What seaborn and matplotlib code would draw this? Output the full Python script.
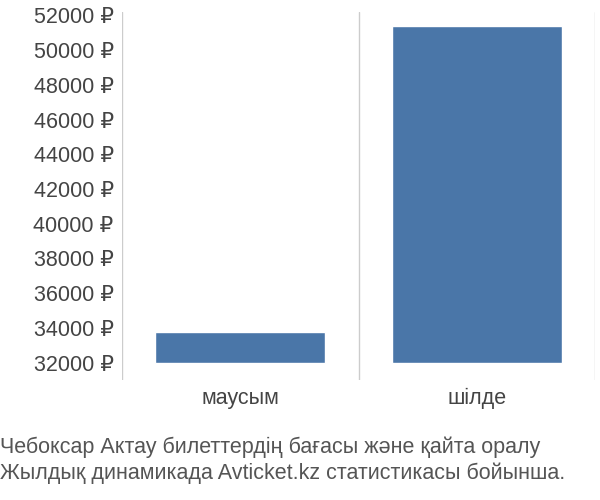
import matplotlib
matplotlib.use("Agg")
import matplotlib.pyplot as plt
import seaborn as sns
import pandas as pd

categories = ["маусым", "шілде"]
prices = [33790, 51420]
base = 32000
yticks = list(range(32000, 52001, 2000))
caption_lines = ["Чебоксар Актау билеттердің бағасы және қайта оралу",
                 "Жылдық динамикада Avticket.kz статистикасы бойынша."]

sns.set_style("white")
plt.rcParams['font.family'] = ['Liberation Sans', 'DejaVu Sans']

fig = plt.figure(figsize=(6, 5), dpi=100)
ax = fig.add_axes([122/600, 1-380/500, (595-122)/600, (380-12)/500])
df = pd.DataFrame({"cat": categories, "h": [p - base for p in prices]})
sns.barplot(data=df, x="cat", y="h", bottom=base, color="#4a76a8", saturation=1, width=0.72, ax=ax)
ax.set_ylim(31000, 52200)
ax.set_xlim(-0.5, 1.5)
for s in ax.spines.values():
    s.set_visible(False)
for x in [-0.5, 0.5, 1.5]:
    ax.axvline(x, color="#cccccc", lw=1, zorder=0)
ax.set_yticks(yticks)
ax.set_yticklabels([f"{t} ₽" for t in yticks], fontsize=15.5, color="#444444")
ax.tick_params(axis='x', labelsize=15.5, colors="#444444", length=0, pad=6)
ax.tick_params(axis='y', length=0, pad=6)
ax.set_xlabel("")
ax.set_ylabel("")
fig.text(0.0, 1-447/500, caption_lines[0], fontsize=15.5, color="#555555", va="center")
fig.text(0.0, 1-473/500, caption_lines[1], fontsize=15.5, color="#555555", va="center")
fig.savefig("out.png", dpi=100)
